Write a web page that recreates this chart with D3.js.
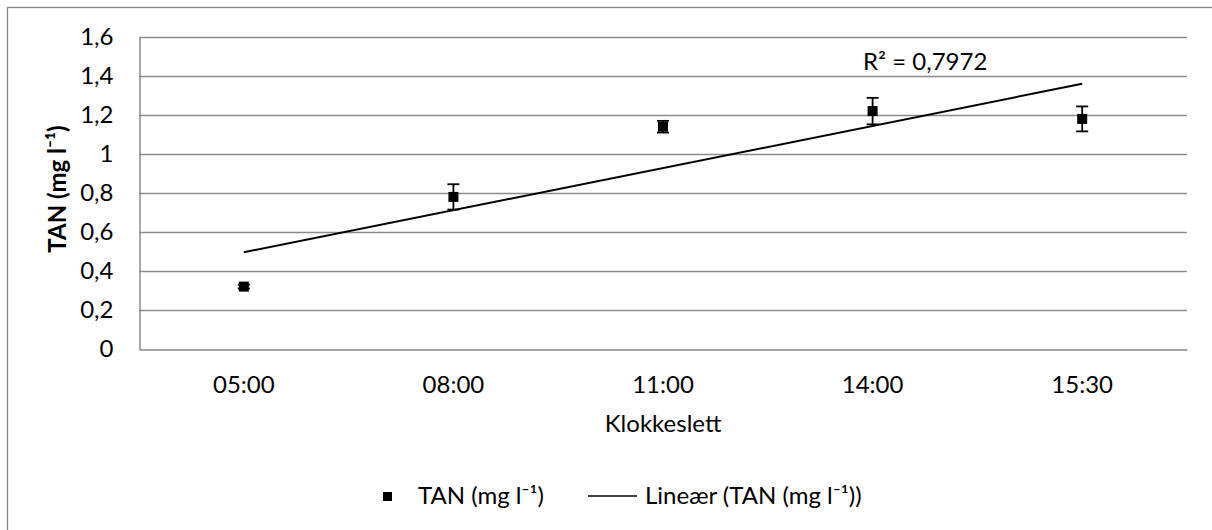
<!DOCTYPE html>
<html>
<head>
<meta charset="utf-8">
<script src="https://cdn.jsdelivr.net/npm/d3@7"></script>
<style>
  html, body { margin: 0; padding: 0; background: #fff; }
  svg { display: block; font-family: Lato, "Open Sans", sans-serif; }
</style>
</head>
<body>
<svg id="chart" width="1212" height="530"></svg>
<script>
// Sampling times and measured total ammonia nitrogen
const times = ["05:00", "08:00", "11:00", "14:00", "15:30"];
const tanMean = [0.32, 0.78, 1.14, 1.22, 1.18];
const tanErr = [0.01, 0.065, 0.03, 0.068, 0.064];
const yTicks = [0, 0.2, 0.4, 0.6, 0.8, 1, 1.2, 1.4, 1.6];
const r2Label = "R² = 0,7972";
const seriesName = "TAN (mg l⁻¹)";
const trendName = "Lineær (TAN (mg l⁻¹))";

const svg = d3.select("#chart");
const plot = { left: 139, right: 1187, top: 37, bottom: 349 };
const FS = 24;

// Chart frame
svg.append("rect")
  .attr("x", 7.5).attr("y", 7.5)
  .attr("width", 1240).attr("height", 560)
  .attr("fill", "#fff").attr("stroke", "#868686").attr("stroke-width", 1.3);

const x = d3.scaleBand().domain(times).range([plot.left, plot.right]);
const y = d3.scaleLinear().domain([0, 1.6]).range([plot.bottom, plot.top]);
const fmt = v => String(v).replace(".", ",");

// Horizontal gridlines
svg.append("g")
  .selectAll("line")
  .data(yTicks.filter(t => t > 0))
  .join("line")
  .attr("x1", plot.left).attr("x2", plot.right)
  .attr("y1", d => Math.round(y(d)) + 0.5).attr("y2", d => Math.round(y(d)) + 0.5)
  .attr("stroke", "#8c8c8c").attr("stroke-width", 1.4);

// Y axis
const yAxis = svg.append("g")
  .attr("transform", `translate(${plot.left + 0.5},0)`)
  .call(d3.axisLeft(y).tickValues(yTicks).tickFormat(fmt).tickSize(0).tickPadding(26));
yAxis.select(".domain").attr("stroke", "#868686").attr("stroke-width", 1.4);
yAxis.selectAll("text").attr("font-size", FS).attr("fill", "#000")
  .attr("font-family", "Lato, sans-serif");

// X axis
const xAxis = svg.append("g")
  .attr("transform", `translate(0,${Math.round(plot.bottom) + 0.5})`)
  .call(d3.axisBottom(x).tickSize(0).tickPadding(26));
xAxis.select(".domain").attr("stroke", "#868686").attr("stroke-width", 1.6);
xAxis.selectAll("text").attr("font-size", FS).attr("fill", "#000")
  .attr("font-family", "Lato, sans-serif");

// Axis titles
svg.append("text")
  .attr("transform", `translate(66,${(plot.top + plot.bottom) / 2 - 4}) rotate(-90)`)
  .attr("text-anchor", "middle")
  .attr("font-size", FS).attr("font-weight", "bold")
  .text(seriesName);

svg.append("text")
  .attr("x", (plot.left + plot.right) / 2).attr("y", 432)
  .attr("text-anchor", "middle").attr("font-size", FS)
  .text("Klokkeslett");

// Linear trendline fitted over category positions 1..n
const idx = times.map((_, i) => i + 1);
const mx = d3.mean(idx), my = d3.mean(tanMean);
const slope = d3.sum(idx, (v, i) => (v - mx) * (tanMean[i] - my)) / d3.sum(idx, v => (v - mx) ** 2);
const intercept = my - slope * mx;
const cx = t => x(t) + x.bandwidth() / 2;

svg.append("line")
  .attr("x1", cx(times[0])).attr("y1", y(intercept + slope * idx[0]))
  .attr("x2", cx(times[times.length - 1])).attr("y2", y(intercept + slope * idx[idx.length - 1]))
  .attr("stroke", "#000").attr("stroke-width", 2);

// Error bars
const eb = svg.append("g").attr("stroke", "#000").attr("stroke-width", 1.8);
times.forEach((t, i) => {
  const top = y(tanMean[i] + tanErr[i]), bot = y(tanMean[i] - tanErr[i]);
  eb.append("line").attr("x1", cx(t)).attr("x2", cx(t)).attr("y1", top).attr("y2", bot);
  eb.append("line").attr("x1", cx(t) - 6).attr("x2", cx(t) + 6).attr("y1", top).attr("y2", top);
  eb.append("line").attr("x1", cx(t) - 6).attr("x2", cx(t) + 6).attr("y1", bot).attr("y2", bot);
});

// Point markers
svg.append("g")
  .selectAll("rect")
  .data(times)
  .join("rect")
  .attr("x", d => cx(d) - 5)
  .attr("y", (d, i) => y(tanMean[i]) - 5)
  .attr("width", 10).attr("height", 10)
  .attr("fill", "#000");

// R² annotation
svg.append("text")
  .attr("x", 863).attr("y", 70)
  .attr("font-size", FS)
  .text(r2Label);

// Legend
const lg = svg.append("g");
lg.append("rect").attr("x", 383).attr("y", 492).attr("width", 9).attr("height", 9).attr("fill", "#000");
lg.append("text").attr("x", 418).attr("y", 504).attr("font-size", FS).text(seriesName);
lg.append("line").attr("x1", 588).attr("x2", 637).attr("y1", 496).attr("y2", 496)
  .attr("stroke", "#000").attr("stroke-width", 1.6);
lg.append("text").attr("x", 645).attr("y", 504).attr("font-size", FS).text(trendName);
</script>
</body>
</html>
